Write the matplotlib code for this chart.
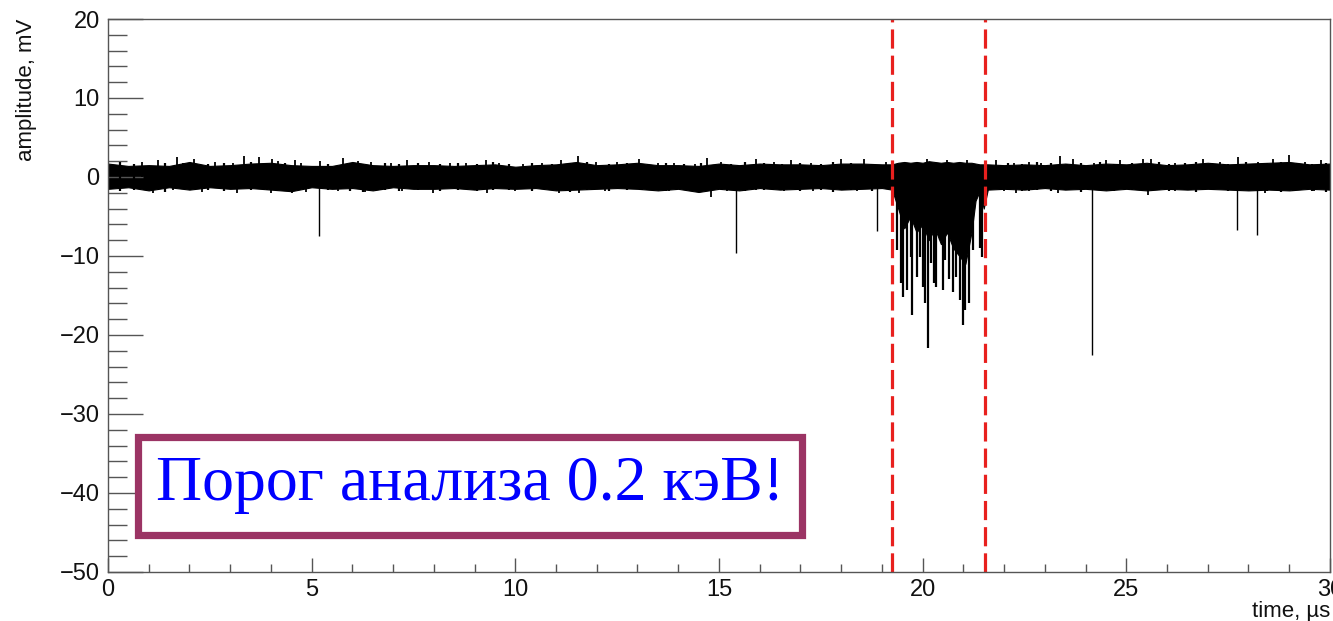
import numpy as np
import matplotlib
matplotlib.use("Agg")
import matplotlib.pyplot as plt
from matplotlib.patches import Rectangle
from matplotlib.ticker import MultipleLocator

plt.rcParams['font.family'] = ['Liberation Sans', 'DejaVu Sans']

# noise band envelope of the trace (mV) vs time (us)
env_t = [0, 0.5, 1, 1.5, 2, 2.5, 3, 3.5, 4, 4.5, 5, 5.5, 6, 6.5, 7, 7.5, 8, 8.5, 9, 9.5,
         10, 10.5, 11, 11.5, 12, 12.5, 13, 13.5, 14, 14.5, 15, 15.5, 16, 16.5, 17, 17.5,
         18, 18.5, 19, 19.25, 19.4, 19.55, 19.7, 19.85, 20.0, 20.15, 20.3, 20.45, 20.6,
         20.75, 20.9, 21.05, 21.2, 21.3, 21.4, 21.5, 21.6,
         22, 22.5, 23, 23.5, 24, 24.5, 25, 25.5, 26, 26.5, 27, 27.5, 28, 28.5, 29, 29.5, 30]
env_hi = [1.7, 1.4, 1.5, 1.4, 1.9, 1.4, 1.5, 1.7, 1.8, 1.5, 1.4, 1.4, 1.9, 1.5, 1.4, 1.5, 1.5, 1.4, 1.5, 1.6,
          1.3, 1.5, 1.6, 1.9, 1.5, 1.6, 1.8, 1.5, 1.5, 1.4, 1.7, 1.5, 1.7, 1.6, 1.6, 1.5,
          1.7, 1.7, 1.6, 1.6, 1.8, 1.9, 1.8, 1.9, 1.8, 2.0, 1.9, 1.8, 1.9,
          1.8, 1.9, 1.8, 1.8, 1.7, 1.6, 1.6, 1.6,
          1.5, 1.6, 1.5, 1.7, 1.5, 1.7, 1.6, 1.8, 1.5, 1.6, 1.8, 1.6, 1.7, 1.8, 1.9, 1.6, 1.7]
env_lo = [-1.5, -1.3, -1.7, -1.3, -1.6, -1.3, -1.5, -1.4, -1.6, -1.8, -1.3, -1.5, -1.4, -1.7, -1.3, -1.5, -1.5, -1.4, -1.6, -1.4,
          -1.5, -1.4, -1.7, -1.6, -1.5, -1.4, -1.5, -1.7, -1.5, -1.9, -1.5, -1.7, -1.4, -1.6, -1.5, -1.4,
          -1.6, -1.5, -1.4, -1.6, -4.0, -6.5, -5.0, -7.0, -6.0, -8.0, -6.5, -8.5, -7.0,
          -9.0, -10.0, -11.0, -7.0, -3.0, -1.8, -4.0, -1.6,
          -1.5, -1.6, -1.4, -1.6, -1.5, -1.7, -1.5, -1.7, -1.5, -1.6, -1.5, -1.6, -1.7, -1.6, -1.7, -1.5, -1.6]

# short excursions above and below the band
up_t = [0.83, 1.23, 1.69, 1.83, 2.11, 2.62, 3.07, 3.33, 3.72, 4.02, 4.18, 4.58, 4.74, 5.2, 5.78,
        6.13, 6.46, 6.95, 7.35, 7.89, 8.39, 8.8, 9.29, 9.6, 10.2, 10.66, 11.13, 11.55, 11.97,
        12.5, 13.04, 13.5, 13.9, 14.4, 14.7, 15.05, 15.9, 16.35, 16.76, 17.25, 18.0, 18.55,
        19.1, 19.78, 20.1, 20.6, 21.08, 21.8, 22.25, 22.6, 22.9, 23.38, 23.7, 24.2, 24.49,
        24.85, 25.42, 25.6, 26.2, 26.88, 27.3, 27.75, 28.24, 28.6, 29.0, 29.4, 29.78]
up_y = [1.9, 2.1, 2.5, 1.8, 2.3, 1.9, 1.8, 2.6, 2.5, 2.3, 2.0, 2.1, 1.8, 2.0, 2.4,
        2.0, 1.9, 1.8, 2.1, 1.9, 1.8, 1.8, 2.1, 1.8, 1.6, 1.8, 2.1, 2.7, 1.9,
        1.9, 2.3, 1.8, 1.8, 1.6, 2.4, 1.9, 2.3, 1.9, 2.1, 1.8, 2.3, 2.3,
        1.9, 1.8, 2.3, 2.1, 2.1, 2.1, 1.8, 1.9, 1.8, 2.7, 2.3, 1.8, 2.1,
        2.1, 2.3, 2.3, 1.8, 2.3, 1.9, 2.5, 1.9, 2.3, 2.8, 1.9, 2.1]
dn_t = [1.1, 1.6, 2.3, 3.16, 4.0, 4.52, 4.85, 5.64, 6.3, 6.7, 7.23, 7.97, 9.3, 10.0, 11.08,
        11.57, 12.2, 13.1, 13.77, 14.8, 15.2, 15.9, 16.6, 17.3, 18.4, 22.0, 22.3, 22.6,
        23.33, 25.54, 26.2, 28.4, 29.1, 29.6]
dn_y = [-2.0, -1.6, -1.9, -2.0, -2.0, -2.0, -1.9, -1.8, -1.9, -1.7, -1.8, -2.0, -2.0, -1.8, -2.0,
        -2.0, -1.8, -1.6, -1.8, -2.5, -1.8, -1.6, -1.8, -1.8, -1.8, -1.8, -2.0, -1.8,
        -2.0, -2.3, -1.8, -2.0, -1.8, -1.8]

# smaller ragged edges of the band
fuzz_t = [0.3, 0.65, 1.4, 2.45, 2.85, 3.5, 3.9, 4.35, 5.4, 5.95, 6.25, 6.8, 7.15, 7.6, 8.15,
          8.6, 9.05, 9.45, 9.85, 10.4, 10.9, 11.35, 11.75, 12.3, 12.75, 13.25, 13.7, 14.15,
          14.55, 15.3, 15.65, 16.1, 16.55, 17.0, 17.5, 17.8, 18.25, 18.75, 22.1, 22.45, 22.8,
          23.15, 23.55, 23.9, 24.35, 24.7, 25.15, 25.8, 26.05, 26.45, 26.7, 27.1, 27.5, 27.95,
          28.45, 28.8, 29.2, 29.55, 29.9]
fuzz_hi = [1.9, 1.7, 1.8, 1.7, 1.8, 1.9, 1.7, 1.8, 1.7, 1.8, 1.7, 1.8, 1.7, 1.8, 1.7,
           1.8, 1.7, 1.9, 1.7, 1.8, 1.7, 1.8, 1.9, 1.7, 1.8, 1.7, 1.8, 1.7,
           1.8, 1.7, 1.9, 1.8, 1.7, 1.8, 1.7, 1.9, 1.8, 1.7, 1.8, 1.7, 1.9,
           1.8, 1.7, 1.8, 1.9, 1.7, 1.8, 1.9, 1.7, 1.8, 1.9, 1.8, 1.7, 1.9,
           1.8, 1.9, 1.8, 1.7, 1.8]
fuzz_lo = [-1.8, -1.6, -1.9, -1.7, -1.8, -1.7, -1.6, -1.8, -1.7, -1.8, -1.9, -1.7, -1.8, -1.6, -1.8,
           -1.7, -1.8, -1.7, -1.6, -1.8, -1.7, -1.9, -1.7, -1.8, -1.6, -1.7, -1.8, -1.7,
           -1.9, -1.7, -1.8, -1.7, -1.6, -1.8, -1.7, -1.9, -1.7, -1.8, -1.7, -1.8, -1.6,
           -1.8, -1.7, -1.9, -1.7, -1.8, -1.7, -1.6, -1.8, -1.7, -1.9, -1.7, -1.8, -1.7,
           -1.8, -1.9, -1.7, -1.8, -1.9]

# isolated pulses
spike_t = [5.17, 15.42, 18.87, 24.17, 27.72, 28.2]
spike_y = [-7.5, -9.6, -6.8, -22.5, -6.7, -7.3]

# pulse train inside the analysis window
train_t = [19.36, 19.46, 19.53, 19.61, 19.71, 19.75, 19.85, 19.93, 20.0, 20.07, 20.12, 20.2,
           20.27, 20.34, 20.42, 20.49, 20.56, 20.64, 20.74, 20.81, 20.93, 21.0, 21.05, 21.13,
           21.23, 21.42, 21.47]
train_y = [-9.2, -13.4, -15.2, -14.3, -10.1, -17.5, -12.7, -10.1, -13.9, -16.0, -21.6, -10.9,
           -13.4, -13.9, -8.0, -14.3, -10.5, -12.9, -14.6, -12.7, -15.6, -18.7, -16.8, -16.0,
           -9.2, -9.0, -10.1]

window = [19.24, 21.54]

fig = plt.figure(figsize=(13.33, 6.21), dpi=100)
ax = fig.add_axes([0.081, 0.079, 0.9167, 0.8904])

ax.fill_between(env_t, env_lo, env_hi, color='black', lw=0.8)
ax.vlines(fuzz_t, 0, fuzz_hi, color='black', lw=1.6)
ax.vlines(fuzz_t, 0, fuzz_lo, color='black', lw=1.6)
ax.vlines(up_t, 0, up_y, color='black', lw=1.3)
ax.vlines(dn_t, 0, dn_y, color='black', lw=1.3)
ax.vlines(spike_t, 0, spike_y, color='black', lw=1.0)
ax.vlines(train_t, 0, train_y, color='black', lw=1.6)

for w in window:
    ax.axvline(w, color='#e8201e', lw=2.3, dashes=(6, 2.2))

ax.set_xlim(0, 30)
ax.set_ylim(-50, 20)
ax.xaxis.set_major_locator(MultipleLocator(5))
ax.xaxis.set_minor_locator(MultipleLocator(1))
ax.yaxis.set_major_locator(MultipleLocator(10))
ax.yaxis.set_minor_locator(MultipleLocator(2))

gray = '#555555'
for s in ax.spines.values():
    s.set_color(gray)
    s.set_linewidth(1.0)
ax.tick_params(axis='both', which='both', direction='in', colors=gray, labelcolor='#111111',
               labelsize=17, width=1.0)
ax.tick_params(axis='y', which='major', length=25, pad=6)
ax.tick_params(axis='y', which='minor', length=14)
ax.tick_params(axis='x', which='major', length=10, pad=5)
ax.tick_params(axis='x', which='minor', length=6)

ax.set_ylabel('amplitude, mV', fontsize=16, loc='top', labelpad=16, color='#111111')
ax.set_xlabel('time, µs', fontsize=16, loc='right', labelpad=0, color='#111111')

# threshold note
box = Rectangle((0.1032, 0.139), 0.4988, 0.158, transform=fig.transFigure,
                facecolor='white', edgecolor='#9b3464', lw=5.2, zorder=5)
fig.patches.append(box)
fig.text(0.3526, 0.219, 'Порог анализа 0.2 кэВ!', transform=fig.transFigure,
         ha='center', va='center', fontsize=46, color='#0000ff',
         family=['Liberation Serif', 'DejaVu Serif'], zorder=6)

fig.savefig('out.png', dpi=100)
